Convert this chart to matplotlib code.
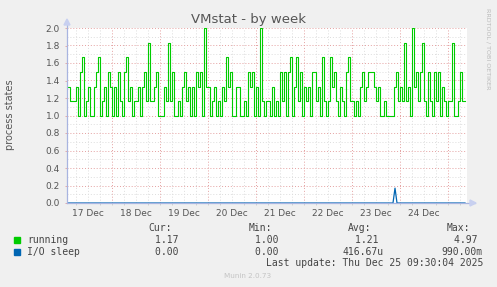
import numpy as np
import matplotlib
matplotlib.use("Agg")
import matplotlib.pyplot as plt
from matplotlib.patches import Rectangle, Polygon

# ---------------- data ----------------
start_hour = 1.5          # hours after 17 Dec 00:00
step_hours = 1.0
day_labels = ["17 Dec", "18 Dec", "19 Dec", "20 Dec", "21 Dec", "22 Dec", "23 Dec", "24 Dec"]
y_ticks = [0.0, 0.2, 0.4, 0.6, 0.8, 1.0, 1.2, 1.4, 1.6, 1.8, 2.0]

running = [
    1.33, 1.33, 1.17, 1.17, 1.17, 1.33, 1.0, 1.5, 1.67, 1.0,
    1.17, 1.33, 1.0, 1.0, 1.33, 1.5, 1.67, 1.0, 1.17, 1.33,
    1.0, 1.5, 1.33, 1.0, 1.33, 1.0, 1.5, 1.17, 1.0, 1.5,
    1.67, 1.17, 1.33, 1.0, 1.17, 1.17, 1.33, 1.0, 1.33, 1.5,
    1.17, 1.83, 1.17, 1.17, 1.33, 1.5, 1.0, 1.0, 1.0, 1.33,
    1.17, 1.83, 1.17, 1.5, 1.0, 1.0, 1.17, 1.0, 1.33, 1.5,
    1.17, 1.33, 1.0, 1.33, 1.0, 1.5, 1.33, 1.5, 1.0, 2.0,
    1.33, 1.33, 1.0, 1.17, 1.33, 1.0, 1.17, 1.0, 1.33, 1.17,
    1.67, 1.33, 1.5, 1.0, 1.0, 1.33, 1.33, 1.0, 1.0, 1.17,
    1.0, 1.5, 1.33, 1.5, 1.0, 1.33, 1.0, 2.0, 1.17, 1.0,
    1.17, 1.17, 1.0, 1.33, 1.0, 1.17, 1.0, 1.5, 1.17, 1.5,
    1.0, 1.5, 1.67, 1.0, 1.33, 1.67, 1.17, 1.5, 1.0, 1.33,
    1.17, 1.33, 1.0, 1.5, 1.5, 1.17, 1.33, 1.0, 1.67, 1.17,
    1.0, 1.17, 1.67, 1.33, 1.5, 1.17, 1.0, 1.33, 1.17, 1.0,
    1.5, 1.67, 1.17, 1.17, 1.0, 1.17, 1.0, 1.33, 1.5, 1.17,
    1.33, 1.5, 1.5, 1.5, 1.33, 1.17, 1.33, 1.0, 1.0, 1.17,
    1.0, 1.0, 1.0, 1.0, 1.33, 1.5, 1.17, 1.33, 1.17, 1.83,
    1.17, 1.33, 1.0, 2.0, 1.33, 1.5, 1.17, 1.5, 1.83, 1.17,
    1.0, 1.5, 1.17, 1.0, 1.5, 1.17, 1.5, 1.0, 1.33, 1.17,
    1.0, 1.17, 1.17, 1.83, 1.0, 1.0, 1.17, 1.5, 1.17, 1.17,
]
io_sleep = [0.0] * 164 + [0.17] + [0.0] * 35

legend_names = ["running", "I/O sleep"]
legend_colors = ["#00CC00", "#0066B3"]
cur_vals = ["1.17 ", "0.00 "]
min_vals = ["1.00 ", "0.00 "]
avg_vals = ["1.21 ", "416.67u"]
max_vals = ["4.97 ", "990.00m"]

# ---------------- figure ----------------
W, H = 497, 287
fig = plt.figure(figsize=(W / 100, H / 100), dpi=100, facecolor="#F0F0F0")

def fx(x):
    return x / W

def fy(y):
    return 1 - y / H

ax = fig.add_axes([fx(67), fy(203), fx(467) - fx(67), fy(28) - fy(203)])
ax.set_facecolor("white")

n = len(running)
t = start_hour + step_hours * np.arange(n)
t_end = start_hour + step_hours * n

ax.set_xlim(start_hour, t_end)
ax.set_ylim(0, 2.0)

# grid
minor_col = "#DDDDDD"
major_col = "#E4A0A0"
for h in np.arange(6, t_end, 6):
    if h <= start_hour:
        continue
    col = major_col if h % 24 == 0 else minor_col
    ax.axvline(h, color=col, lw=0.7, ls=(0, (1, 2)), zorder=0)
for v in np.arange(0.1, 2.05, 0.1):
    col = major_col if round(v * 10) % 2 == 0 else minor_col
    ax.axhline(v, color=col, lw=0.7, ls=(0, (1, 2)), zorder=0)

ax.plot(t, running, color=legend_colors[0], lw=0.8, drawstyle="steps-mid", zorder=3)
ax.plot(t, io_sleep, color=legend_colors[1], lw=0.9, zorder=4)

for s in ax.spines.values():
    s.set_visible(False)

# ticks
noons = [12 + 24 * i for i in range(len(day_labels))]
ax.set_xticks(noons)
ax.set_xticklabels(day_labels)
ax.set_xticks([h for h in np.arange(6, t_end, 6) if h > start_hour], minor=True)
ax.tick_params(axis="x", which="major", length=0, pad=4.5, labelsize=6.5, labelcolor="#555555")
ax.tick_params(axis="x", which="minor", length=1.5, width=0.6, color="#CCCCCC")
ax.set_yticks(y_ticks)
ax.set_yticklabels([f"{v:.1f}" for v in y_ticks])
ax.tick_params(axis="y", which="major", length=1.5, width=0.6, color=major_col,
               pad=3.5, labelsize=6.5, labelcolor="#555555")

fig.text(fx(10), fy(115), "process states", rotation=90, ha="center", va="center",
         fontsize=7, color="#555555")

# axes lines with arrows
axis_col = "#A8B4E0"
ax.plot([0, 1.02], [0, 0], transform=ax.transAxes, color=axis_col, lw=0.9, clip_on=False, zorder=5)
ax.plot([0, 0], [0, 1.02], transform=ax.transAxes, color=axis_col, lw=0.9, clip_on=False, zorder=5)
fig.add_artist(Polygon([[fx(470), fy(200)], [fx(470), fy(206)], [fx(476), fy(203)]],
                       closed=True, color="#C8D0F0", transform=fig.transFigure))
fig.add_artist(Polygon([[fx(64), fy(25)], [fx(70), fy(25)], [fx(67), fy(19)]],
                       closed=True, color="#C8D0F0", transform=fig.transFigure))

# title
fig.text(fx(249), fy(19), "VMstat - by week", ha="center", va="center", fontsize=9.5, color="#555555")
fig.text(fx(488), fy(8), "RRDTOOL / TOBI OETIKER", rotation=270, ha="center", va="top",
         fontsize=4.6, color="#BBBBBB")

# legend
mono = "DejaVu Sans Mono"
fs = 7
txtc = "#444444"
hdr_y = 228
for label, xr in [("Cur:", 172), ("Min:", 272), ("Avg:", 371), ("Max:", 470)]:
    fig.text(fx(xr), fy(hdr_y), label, ha="right", va="center", family=mono, fontsize=fs, color=txtc)
rows_y = [240, 252]
for i in range(2):
    y = rows_y[i]
    fig.add_artist(Rectangle((fx(14), fy(y + 3)), fx(6), 6 / H, color=legend_colors[i],
                             transform=fig.transFigure))
    fig.text(fx(27), fy(y), legend_names[i], ha="left", va="center", family=mono, fontsize=fs, color=txtc)
    for vals, xr in [(cur_vals, 184), (min_vals, 284), (avg_vals, 384), (max_vals, 483)]:
        fig.text(fx(xr), fy(y), vals[i], ha="right", va="center", family=mono, fontsize=fs, color=txtc)
fig.text(fx(483), fy(263.5), "Last update: Thu Dec 25 09:30:04 2025", ha="right", va="center",
         family=mono, fontsize=fs, color=txtc)
fig.text(fx(248), fy(276), "Munin 2.0.73", ha="center", va="center", fontsize=5.2, color="#C4C4C4")

fig.savefig("out.png", dpi=100, facecolor=fig.get_facecolor())
